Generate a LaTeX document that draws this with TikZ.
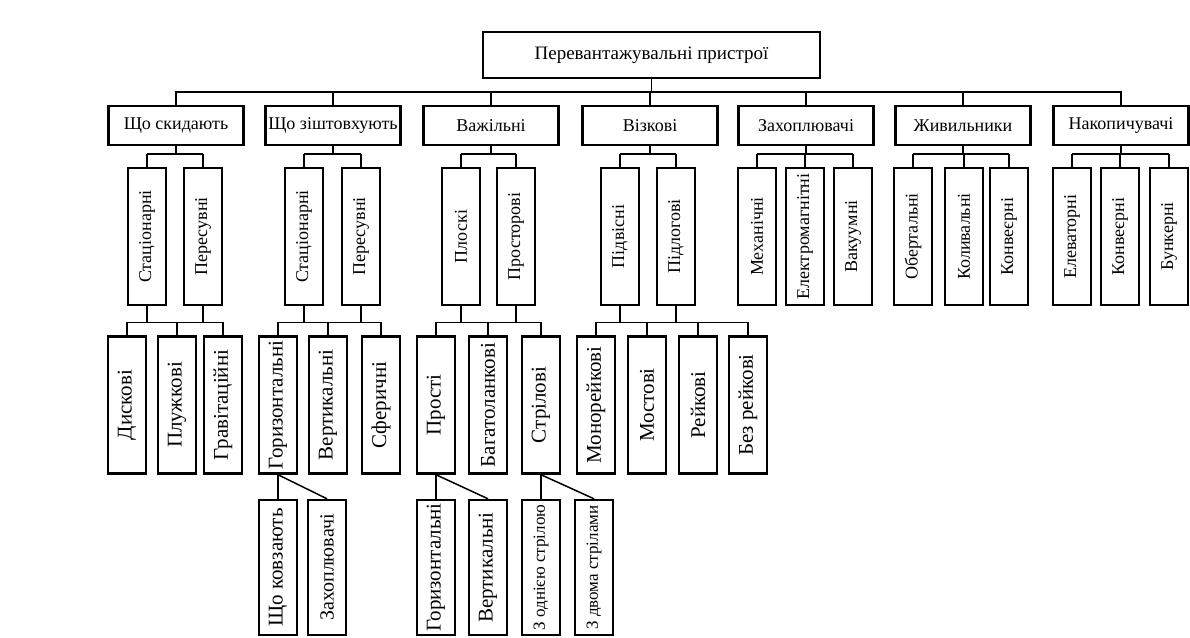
\documentclass[tikz,border=0pt]{standalone}
\usepackage{fontspec}
\setmainfont{Liberation Serif}
\usepackage{graphicx}
\usepackage{tikz}

\tikzset{
  box/.style={draw, line width=2.4pt, inner sep=0pt, align=center},
  hbox/.style={box, minimum width=135pt, minimum height=39pt, font=\fontsize{18}{21}\selectfont},
  vbox/.style={box, minimum width=38pt, minimum height=137pt, font=\fontsize{18}{21}\selectfont},
  vbig/.style={vbox, font=\fontsize{21}{24}\selectfont},
  link/.style={line width=1.5pt},
}

\begin{document}
\begin{tikzpicture}[x=1pt, y=-1pt]
  \useasboundingbox (0,0) rectangle (1190,637);

  % root
  \node[box, minimum width=337pt, minimum height=46pt, font=\fontsize{19}{22}\selectfont] (root) at (651.5,55) {Перевантажувальні пристрої};

  % first level
  \foreach \n/\x/\t in {skyd/176/Що скидають, zisht/333/Що зіштовхують, vazh/491/Важільні,
      vizk/650/Візкові, zakh/806/Захоплювачі, zhyv/963/Живильники, nakop/1121/Накопичувачі}
    \node[hbox] (\n) at (\x,125.5) {\t};

  \coordinate (b0) at (0,92);
  \draw[link] (root.south) -- (root.south |- b0);
  \draw[link] (skyd.north) -- (skyd.north |- b0) -- (nakop.north |- b0) -- (nakop.north);
  \foreach \n in {zisht, vazh, vizk, zakh, zhyv}
    \draw[link] (\n.north) -- (\n.north |- b0);

  % second level
  \foreach \n/\x/\t in {st1/147/Стаціонарні, pr1/203/Пересувні,
      st2/304/Стаціонарні, pr2/361/Пересувні,
      plo/461/Плоскі, pro/516/Просторові,
      pid/620/Підвісні, pdl/676/Підлогові,
      mex/757/Механічні, ele/805/Електромагнітні, vak/853/Вакуумні,
      obe/913/Обертальні, kol/964/Коливальні, kon1/1009/Конвеєрні,
      elv/1072/Елеваторні, kon2/1120/Конвеєрні, bun/1169/Бункерні}
    \node[vbox] (\n) at (\x,236.5) {\rotatebox{90}{\t}};

  % third level
  \foreach \n/\x/\t in {dys/127/Дискові, plu/177/Плужкові, gra/223/Гравітаційні,
      gor1/278/Горизонтальні, ver1/328/Вертикальні, sfe/381/Сферичні,
      pros/436/Прості, bag/488/Багатоланкові, str/541/Стрілові,
      mon/596/Монорейкові, mos/647/Мостові, rei/698/Рейкові, bez/748/Без рейкові}
    \node[vbig] (\n) at (\x,405) {\rotatebox{90}{\t}};

  % fourth level
  \node[vbig, minimum height=135pt] (kov) at (278,567.5) {\rotatebox{90}{Що ковзають}};
  \node[vbig, minimum height=135pt, font=\fontsize{20}{23}\selectfont] (zah) at (327,567.5) {\rotatebox{90}{Захоплювачі}};
  \node[vbig, minimum height=135pt] (gor2) at (436,567.5) {\rotatebox{90}{Горизонтальні}};
  \node[vbig, minimum height=135pt] (ver2) at (488,567.5) {\rotatebox{90}{Вертикальні}};
  \node[vbox, minimum height=135pt, font=\fontsize{17}{20}\selectfont] (odn) at (541,567.5) {\rotatebox{90}{З однією стрілою}};
  \node[vbox, minimum height=135pt, font=\fontsize{17}{20}\selectfont] (dvo) at (594,567.5) {\rotatebox{90}{З двома стрілами}};

  % branches: parent/first/last/children
  \foreach \p/\f/\l/\kids in {skyd/st1/pr1/{st1,pr1}, zisht/st2/pr2/{st2,pr2},
      vazh/plo/pro/{plo,pro}, vizk/pid/pdl/{pid,pdl}, zakh/mex/vak/{mex,ele,vak},
      zhyv/obe/kon1/{obe,kol,kon1}, nakop/elv/bun/{elv,kon2,bun},
      st1/dys/gra/{dys,plu,gra}, st2/gor1/sfe/{gor1,ver1,sfe},
      plo/pros/str/{pros,bag,str}, pid/mon/bez/{mon,mos,rei,bez}}{
    \coordinate (bus) at ([yshift=13pt]\f.north);
    \draw[link] (bus) -- (bus -| \l.north);
    \foreach \k in \kids
      \draw[link] (\k.north) -- (\k.north |- bus);
    \draw[link] (\p.south) -- (\p.south |- bus);
  }
  % second parents of the lower branches
  \foreach \p/\c in {pr1/dys, pr2/gor1, pro/pros, pdl/mon}
    \draw[link] (\p.south) -- ([yshift=13pt]\p.south |- \c.north);

  \foreach \p/\a/\b in {gor1/kov/zah, pros/gor2/ver2, str/odn/dvo}{
    \draw[link] (\p.south) -- (\a.north);
    \draw[link] (\p.south) -- (\b.north);
  }
\end{tikzpicture}
\end{document}
